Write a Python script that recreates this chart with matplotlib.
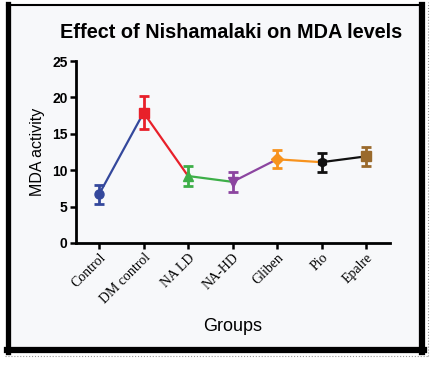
import matplotlib.pyplot as plt
from matplotlib.lines import Line2D

groups = ["Control", "DM control", "NA LD", "NA-HD", "Gliben", "Pio", "Epalre"]
mda = [6.7, 17.9, 9.2, 8.4, 11.5, 11.1, 11.9]
err = [1.3, 2.3, 1.4, 1.35, 1.25, 1.3, 1.35]
colors = ["#34489c", "#e8202a", "#3daf48", "#8c45a0", "#f7931e", "#111111", "#9a6a2c"]
markers = ["o", "s", "^", "v", "D", "h", "s"]

fig = plt.figure(figsize=(4.37, 3.65), dpi=100)
fig.patch.set_facecolor("white")

# framed panel look
bg = plt.Rectangle((0.02, 0.035), 0.94, 0.95, transform=fig.transFigure,
                   facecolor="#f7f8fa", edgecolor="none", zorder=-2)
fig.patches.append(bg)
fig.add_artist(Line2D([7.5/437, 7.5/437], [1-352/365, 1-4/365], color="black", lw=3.8, transform=fig.transFigure))
fig.add_artist(Line2D([7/437, 422/437], [1-5/365, 1-5/365], color="black", lw=1.5, transform=fig.transFigure))
fig.add_artist(Line2D([422/437, 422/437], [1-352/365, 1-5/365], color="black", lw=4.5, transform=fig.transFigure))
fig.add_artist(Line2D([7/437, 424/437], [1-350/365, 1-350/365], color="black", lw=4.5, transform=fig.transFigure))
fig.add_artist(Line2D([428/437, 428/437], [1-356/365, 1-2/365], color="#999999", lw=0.8, ls=":", transform=fig.transFigure))
fig.add_artist(Line2D([5/437, 428/437], [1-356/365, 1-356/365], color="#999999", lw=0.8, ls=":", transform=fig.transFigure))

ax = fig.add_axes([76/437, 1-243/365, (390-76)/437, (243-61)/365])
ax.set_facecolor("#f7f8fa")

x = list(range(len(groups)))
for i in range(len(groups) - 1):
    ax.plot([x[i], x[i+1]], [mda[i], mda[i+1]], color=colors[i], lw=1.6, zorder=2)
for i in x:
    ax.errorbar(x[i], mda[i], yerr=err[i], color=colors[i], marker=markers[i],
                ms=6.5, capsize=3.5, elinewidth=2, capthick=2, zorder=3)

ax.set_xlim(-0.52, 6.54)
ax.set_ylim(0, 25)
ax.set_yticks([0, 5, 10, 15, 20, 25])
ax.set_xticks(x)
ax.set_xticklabels(groups, rotation=45, ha="right", rotation_mode="anchor",
                   family="Liberation Serif", fontsize=10)
for lab in ax.get_yticklabels():
    lab.set_family("Liberation Sans")
    lab.set_fontweight("bold")
    lab.set_fontsize(10)
for s in ["top", "right"]:
    ax.spines[s].set_visible(False)
for s in ["left", "bottom"]:
    ax.spines[s].set_linewidth(2)
ax.tick_params(width=1.8, length=4, pad=2)

ax.set_ylabel("MDA activity", family="Liberation Sans", fontsize=11.5, labelpad=5)
ax.set_xlabel("Groups", family="Liberation Sans", fontsize=13, labelpad=8)
fig.text(0.53, 1-33/365, "Effect of Nishamalaki on MDA levels", ha="center", va="center",
         family="Liberation Sans", fontweight="bold", fontsize=14.3)

fig.savefig("out.png", dpi=100, facecolor=fig.get_facecolor())
